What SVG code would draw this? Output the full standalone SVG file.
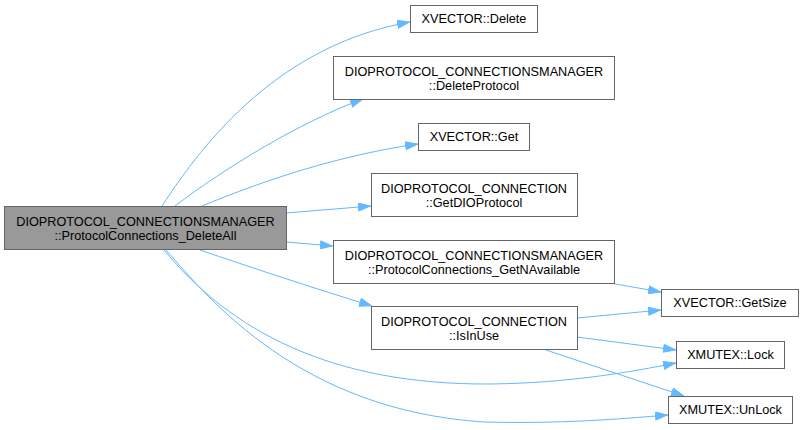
<svg xmlns="http://www.w3.org/2000/svg" width="804" height="430" viewBox="0 0 804 430">
<defs>
<style>
.n rect{fill:#ffffff;stroke:#666666;stroke-width:1}
.n.main rect{fill:#999999}
.n text{font-family:"Liberation Sans",Arial,sans-serif;font-size:12.7px;fill:#000000;text-anchor:middle}
.e path{fill:none;stroke:#63b8ff;stroke-width:1;marker-end:url(#arr)}
</style>
<marker id="arr" viewBox="0 0 13 9" refX="13" refY="4.5" markerWidth="13" markerHeight="9" orient="auto" markerUnits="userSpaceOnUse">
<path d="M0.5,0.5 L12.5,4.5 L0.5,8.5 z" fill="#63b8ff" stroke="#63b8ff" stroke-width="1"/>
</marker>
</defs>
<rect width="804" height="430" fill="#ffffff"/>
<g id="edges" class="e">
<path d="M162,206 C205,140 280,45 410,22"/>
<path d="M175,206 C225,168 300,122 363,99"/>
<path d="M202,206 C265,180 340,155 418,144"/>
<path d="M286,213 L371,206"/>
<path d="M286,242 L333,246"/>
<path d="M200,250 C250,267 310,287 372,306"/>
<path d="M164,250 C230,330 330,385 490,384 C570,383 630,372 676,363"/>
<path d="M166,250 C210,300 300,410 484,422 C560,424 620,419 668,415"/>
<path d="M610,283 L661,292"/>
<path d="M577,318 L661,310"/>
<path d="M577,337 L676,350"/>
<path d="M543,349 L684,396"/>
</g>
<g id="node_main" class="n main">
<rect x="4.5" y="206.5" width="282" height="43"/>
<text x="145.5" y="226">DIOPROTOCOL_CONNECTIONSMANAGER</text>
<text x="145.5" y="240">::ProtocolConnections_DeleteAll</text>
</g>
<g id="node_xvector_delete" class="n">
<rect x="410.5" y="5.5" width="127" height="27"/>
<text x="474" y="23">XVECTOR::Delete</text>
</g>
<g id="node_deleteprotocol" class="n">
<rect x="333.5" y="56.5" width="281" height="43"/>
<text x="474" y="75.5">DIOPROTOCOL_CONNECTIONSMANAGER</text>
<text x="474" y="89.5">::DeleteProtocol</text>
</g>
<g id="node_xvector_get" class="n">
<rect x="418.5" y="123.5" width="111" height="27"/>
<text x="474" y="141">XVECTOR::Get</text>
</g>
<g id="node_getdioprotocol" class="n">
<rect x="371.5" y="173.5" width="206" height="43"/>
<text x="474" y="192.5">DIOPROTOCOL_CONNECTION</text>
<text x="474" y="206.5">::GetDIOProtocol</text>
</g>
<g id="node_getnavailable" class="n">
<rect x="333.5" y="240.5" width="281" height="43"/>
<text x="474" y="259.5">DIOPROTOCOL_CONNECTIONSMANAGER</text>
<text x="474" y="273.5">::ProtocolConnections_GetNAvailable</text>
</g>
<g id="node_isinuse" class="n">
<rect x="371.5" y="306.5" width="206" height="43"/>
<text x="474" y="325.5">DIOPROTOCOL_CONNECTION</text>
<text x="474" y="339.5">::IsInUse</text>
</g>
<g id="node_getsize" class="n">
<rect x="661.5" y="289.5" width="137" height="27"/>
<text x="730" y="307">XVECTOR::GetSize</text>
</g>
<g id="node_lock" class="n">
<rect x="676.5" y="341.5" width="108" height="27"/>
<text x="730.5" y="359">XMUTEX::Lock</text>
</g>
<g id="node_unlock" class="n">
<rect x="668.5" y="396.5" width="124" height="27"/>
<text x="730.5" y="414">XMUTEX::UnLock</text>
</g>
</svg>
